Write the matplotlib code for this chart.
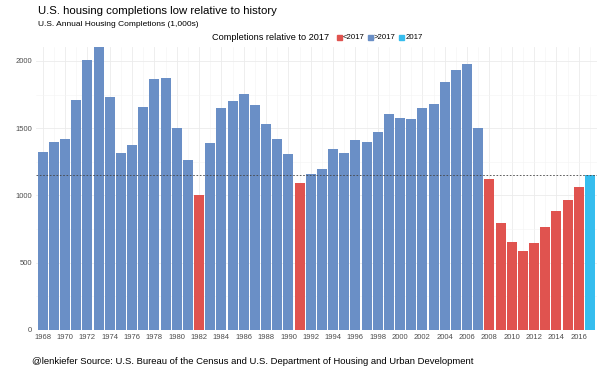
import matplotlib
matplotlib.use("Agg")
import matplotlib.pyplot as plt
from matplotlib.patches import Rectangle
import numpy as np

years = list(range(1968, 2018))
completions = [1320, 1399, 1418, 1706, 2004, 2100, 1728, 1317, 1377, 1657,
               1868, 1871, 1502, 1266, 1006, 1390, 1652, 1703, 1756, 1669,
               1530, 1423, 1308, 1091, 1158, 1193, 1347, 1313, 1413, 1400,
               1474, 1605, 1574, 1571, 1648, 1679, 1842, 1931, 1979, 1503,
               1120, 794, 652, 585, 649, 764, 884, 968, 1060, 1152]
legend_labels = ["<2017", ">2017", "2017"]
legend_colors = ["#e0534f", "#6a8fc6", "#36bdee"]

plt.rcParams['font.family'] = ['Liberation Sans', 'DejaVu Sans']

W, H = 600, 369
fig = plt.figure(figsize=(W / 100, H / 100), dpi=100)
fig.patch.set_facecolor("white")

def fx(px):
    return px / W

def fy(py):
    return 1 - py / H

left, right, top, bottom = 36, 597, 47, 330
ax = fig.add_axes([fx(left), fy(bottom), fx(right - left), (bottom - top) / H])

ref = completions[-1]
colors = []
for y, v in zip(years, completions):
    if y == 2017:
        colors.append(legend_colors[2])
    elif v < ref:
        colors.append(legend_colors[0])
    else:
        colors.append(legend_colors[1])

ax.bar(years, completions, width=0.9, color=colors, zorder=2)
ax.axhline(ref, color="#444444", linestyle=(0, (2, 2)), linewidth=0.6, zorder=3)

ax.set_xlim(1967.4, 2017.63)
ax.set_ylim(0, 2103)
ax.set_xticks(list(range(1968, 2017, 2)))
ax.set_xticks(list(range(1969, 2018, 2)), minor=True)
ax.set_yticks([0, 500, 1000, 1500, 2000])
ax.set_yticks([250, 750, 1250, 1750], minor=True)
ax.grid(True, which="major", color="#ebebeb", linewidth=0.6, zorder=0)
ax.grid(True, which="minor", color="#f4f4f4", linewidth=0.4, zorder=0)
for s in ax.spines.values():
    s.set_visible(False)
ax.tick_params(which="both", length=0)
ax.tick_params(axis="x", labelsize=5.5, labelcolor="#4d4d4d", pad=3)
ax.tick_params(axis="y", labelsize=5.5, labelcolor="#4d4d4d", pad=3)

fig.text(fx(38), fy(13.5), "U.S. housing completions low relative to history",
         fontsize=8.2, color="black", va="baseline", ha="left")
fig.text(fx(38), fy(26.5), "U.S. Annual Housing Completions (1,000s)",
         fontsize=6.0, color="black", va="baseline", ha="left")
fig.text(fx(32), fy(361), "@lenkiefer Source: U.S. Bureau of the Census and U.S. Department of Housing and Urban Development",
         fontsize=6.8, color="black", va="center", ha="left")

# legend
ly = 37.5
fig.text(fx(212), fy(ly), "Completions relative to 2017", fontsize=6.6, va="center", ha="left")
xs = [336.7, 367.7, 399.3]
for x0, lab, col in zip(xs, legend_labels, legend_colors):
    fig.patches.append(Rectangle((fx(x0), fy(ly + 2.5)), fx(5), 5 / H,
                                 transform=fig.transFigure, color=col))
    fig.text(fx(x0 + 6), fy(ly), lab, fontsize=5.6, va="center", ha="left")

fig.savefig("out.png", dpi=100)
